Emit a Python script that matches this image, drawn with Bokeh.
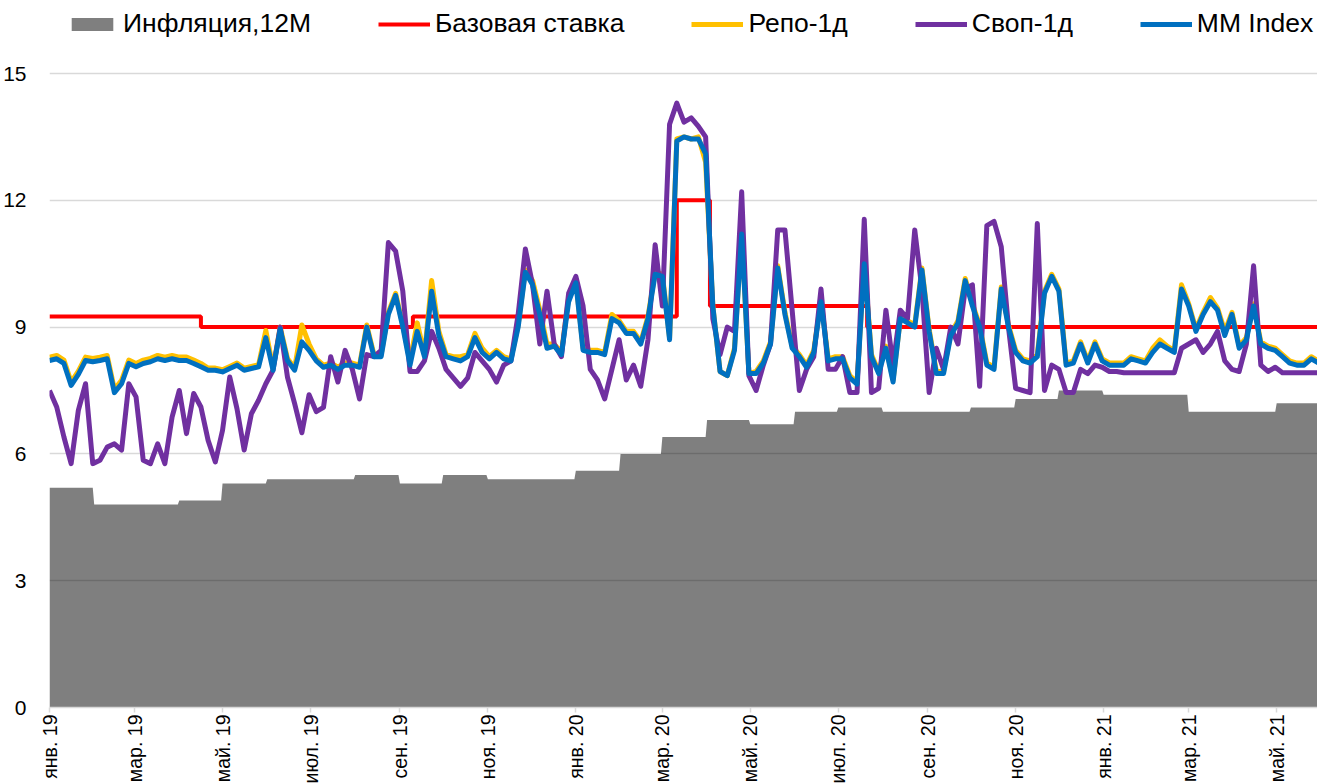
import numpy as np
import pandas as pd
from bokeh.plotting import figure
from bokeh.models import FixedTicker, Legend, LegendItem, Range1d
from bokeh.embed import file_html
from bokeh.resources import INLINE

start = "2019-01-01"
end = "2021-05-30"

# daily-rate series, sampled every 5 days from 2019-01-01
mm_index = [
    8.21, 8.25, 8.14, 7.62, 7.88, 8.21, 8.18, 8.21, 8.25, 7.45,
    7.66, 8.14, 8.06, 8.14, 8.18, 8.25, 8.21, 8.25, 8.21, 8.21,
    8.14, 8.06, 7.98, 7.98, 7.94, 8.02, 8.10, 7.98, 8.02, 8.06,
    8.75, 7.98, 8.95, 8.21, 7.98, 8.65, 8.45, 8.20, 8.05, 8.10,
    8.00, 8.10, 8.10, 8.05, 9.00, 8.30, 8.30, 9.30, 9.75, 9.00,
    8.10, 8.90, 8.30, 9.85, 8.80, 8.30, 8.25, 8.20, 8.30, 8.75,
    8.40, 8.25, 8.40, 8.25, 8.20, 9.00, 10.30, 10.00, 9.30, 8.50,
    8.55, 8.35, 9.60, 10.05, 8.45, 8.40, 8.40, 8.35, 9.20, 9.10,
    8.85, 8.85, 8.60, 9.20, 10.25, 10.20, 8.70, 13.40, 13.50, 13.45,
    13.45, 13.10, 9.50, 7.95, 7.85, 8.45, 11.20, 7.90, 7.90, 8.15,
    8.60, 10.40, 9.30, 8.50, 8.30, 8.05, 8.40, 9.60, 8.20, 8.25,
    8.25, 7.80, 7.65, 10.50, 8.30, 7.90, 8.50, 7.70, 9.20, 9.10,
    9.00, 10.35, 8.90, 7.90, 7.90, 8.80, 9.10, 10.10, 9.50, 9.00,
    8.10, 8.00, 9.90, 9.00, 8.40, 8.20, 8.15, 8.30, 9.80, 10.20,
    9.85, 8.10, 8.15, 8.60, 8.15, 8.60, 8.20, 8.10, 8.10, 8.10,
    8.25, 8.20, 8.15, 8.40, 8.60, 8.50, 8.40, 9.90, 9.50, 8.90,
    9.30, 9.60, 9.40, 8.80, 9.30, 8.50, 8.70, 9.50, 8.60, 8.50,
    8.45, 8.30, 8.15, 8.10, 8.10, 8.25, 8.15,
]

repo_1d = [
    8.29, 8.33, 8.22, 7.70, 7.96, 8.29, 8.26, 8.29, 8.33, 7.53,
    7.74, 8.22, 8.14, 8.22, 8.26, 8.33, 8.29, 8.33, 8.29, 8.29,
    8.22, 8.14, 8.03, 8.03, 7.99, 8.07, 8.15, 8.03, 8.07, 8.11,
    8.92, 8.03, 9.00, 8.26, 8.03, 9.05, 8.60, 8.25, 8.10, 8.15,
    8.05, 8.15, 8.15, 8.10, 9.05, 8.35, 8.35, 9.35, 9.80, 9.05,
    8.20, 9.10, 8.35, 10.10, 8.90, 8.35, 8.30, 8.30, 8.35, 8.85,
    8.50, 8.30, 8.45, 8.30, 8.25, 9.05, 10.35, 10.10, 9.40, 8.60,
    8.60, 8.40, 9.70, 10.10, 8.50, 8.45, 8.45, 8.40, 9.30, 9.15,
    8.90, 8.90, 8.65, 9.25, 10.30, 10.25, 8.75, 13.45, 13.50, 13.45,
    13.50, 12.90, 9.50, 7.95, 7.85, 8.50, 11.25, 7.90, 7.95, 8.20,
    8.65, 10.45, 9.35, 8.55, 8.35, 8.10, 8.45, 9.65, 8.25, 8.30,
    8.30, 7.85, 7.70, 10.55, 8.35, 7.95, 8.55, 7.75, 9.20, 9.15,
    9.05, 10.40, 8.95, 7.95, 7.95, 8.85, 9.15, 10.15, 9.55, 9.05,
    8.15, 8.05, 9.95, 9.05, 8.45, 8.25, 8.20, 8.35, 9.85, 10.25,
    9.90, 8.15, 8.20, 8.65, 8.20, 8.65, 8.25, 8.15, 8.15, 8.15,
    8.30, 8.25, 8.20, 8.50, 8.70, 8.55, 8.45, 10.00, 9.55, 8.95,
    9.35, 9.70, 9.45, 8.90, 9.35, 8.55, 8.75, 9.55, 8.65, 8.55,
    8.50, 8.35, 8.20, 8.15, 8.15, 8.30, 8.20,
]

swap_1d = [
    7.50, 7.11, 6.40, 5.77, 7.03, 7.66, 5.77, 5.85, 6.16, 6.24,
    6.09, 7.66, 7.35, 5.85, 5.77, 6.24, 5.77, 6.87, 7.50, 6.48,
    7.43, 7.11, 6.32, 5.81, 6.56, 7.82, 7.07, 6.09, 6.95, 7.27,
    7.66, 7.98, 9.00, 7.82, 7.19, 6.50, 7.40, 7.00, 7.10, 8.30,
    7.70, 8.45, 8.00, 7.30, 8.35, 8.30, 8.45, 11.00, 10.80, 9.85,
    7.95, 7.95, 8.20, 8.90, 8.50, 8.00, 7.80, 7.60, 7.80, 8.40,
    8.20, 8.00, 7.70, 8.10, 8.20, 9.30, 10.85, 10.00, 8.60, 9.85,
    8.60, 8.30, 9.80, 10.20, 9.50, 8.00, 7.75, 7.30, 8.00, 8.70,
    7.75, 8.10, 7.60, 8.70, 10.95, 9.50, 13.80, 14.30, 13.85, 13.95,
    13.75, 13.50, 9.20, 8.35, 9.00, 8.90, 12.20, 7.85, 7.50, 8.10,
    8.60, 11.30, 11.30, 9.40, 7.50, 8.00, 8.30, 9.90, 8.00, 8.00,
    8.30, 7.45, 7.45, 11.55, 7.45, 7.55, 9.40, 8.10, 9.40, 9.20,
    11.30, 9.90, 7.45, 8.50, 8.00, 9.00, 8.60, 9.90, 10.00, 7.60,
    11.40, 11.50, 10.90, 9.00, 7.55, 7.50, 7.45, 11.45, 7.50, 8.10,
    8.00, 7.45, 7.45, 8.00, 7.90, 8.10, 8.05, 7.95, 7.95, 7.92,
    7.92, 7.92, 7.92, 7.92, 7.92, 7.92, 7.92, 8.50, 8.60, 8.70,
    8.40, 8.60, 8.90, 8.20, 8.00, 7.95, 8.60, 10.45, 8.10, 7.95,
    8.05, 7.92, 7.92, 7.92, 7.92, 7.92, 7.92,
]

# 12-month inflation, monthly from Jan 2019
infl_vals = [5.2, 4.8, 4.8, 4.9, 5.3, 5.4, 5.4, 5.5, 5.3, 5.5, 5.4, 5.4,
             5.6, 6.0, 6.4, 6.8, 6.7, 7.0, 7.1, 7.0, 7.0, 7.1, 7.3, 7.5,
             7.4, 7.4, 7.0, 7.0, 7.2]

# base rate change dates
rate_dates = ["2019-01-01", "2019-04-16", "2019-09-10", "2020-03-11",
              "2020-04-03", "2020-07-21", "2021-05-30"]
rate_vals = [9.25, 9.0, 9.25, 12.0, 9.5, 9.0, 9.0]

tick_labels = ["янв. 19", "мар. 19", "май. 19", "июл. 19", "сен. 19", "ноя. 19",
               "янв. 20", "мар. 20", "май. 20", "июл. 20", "сен. 20", "ноя. 20",
               "янв. 21", "мар. 21", "май. 21"]

FONT = "Liberation Sans"

t0 = pd.Timestamp(start)
t_end = pd.Timestamp(end)

def series_dates(vals):
    return pd.date_range(start, periods=len(vals), freq="5D")

# inflation step area
infl_months = pd.date_range(start, periods=len(infl_vals), freq="MS")
ix, iy = [], []
for k, v in enumerate(infl_vals):
    s = infl_months[k]
    e = infl_months[k + 1] - pd.Timedelta(days=1) if k + 1 < len(infl_vals) else t_end
    ix += [s, e]
    iy += [v, v]

FRAME_W = 1269
FRAME_H = 707
TOP_PAD = 73          # pixels between frame top and the 15 gridline
y_top = 15.0 / ((FRAME_H - TOP_PAD) / FRAME_H)

p = figure(frame_width=FRAME_W, frame_height=FRAME_H, x_axis_type="datetime",
           x_range=Range1d(t0.to_pydatetime(), t_end.to_pydatetime()),
           y_range=Range1d(0, y_top),
           output_backend="svg", toolbar_location=None,
           min_border_left=48, min_border_right=0, min_border_top=0,
           min_border_bottom=0)
p.outline_line_color = None
p.background_fill_color = "white"
p.xgrid.visible = False
p.ygrid.grid_line_color = "#D9D9D9"
p.ygrid.grid_line_width = 1.5

p.yaxis.ticker = FixedTicker(ticks=[0, 3, 6, 9, 12, 15])
p.yaxis.axis_line_color = None
p.yaxis.major_tick_line_color = None
p.yaxis.minor_tick_line_color = None
p.yaxis.major_label_text_font = FONT
p.yaxis.major_label_text_font_size = "21px"
p.yaxis.major_label_text_color = "#000000"
p.yaxis.major_label_standoff = 17

tick_dates = pd.date_range(start, periods=len(tick_labels), freq="2MS")
tick_ms = [int(t.value // 10**6) for t in tick_dates]
p.xaxis.ticker = FixedTicker(ticks=tick_ms)
p.xaxis.major_label_overrides = {ms: lab for ms, lab in zip(tick_ms, tick_labels)}
p.xaxis.major_label_orientation = np.pi / 2
p.xaxis.axis_line_color = "#D9D9D9"
p.xaxis.axis_line_width = 1.5
p.xaxis.major_tick_line_color = "#D9D9D9"
p.xaxis.major_tick_line_width = 1.5
p.xaxis.major_tick_out = 5
p.xaxis.major_tick_in = 0
p.xaxis.minor_tick_line_color = None
p.xaxis.major_label_text_font = FONT
p.xaxis.major_label_text_font_size = "19.5px"
p.xaxis.major_label_text_color = "#000000"
p.xaxis.major_label_standoff = 2

r_area = p.varea(x=ix, y1=0, y2=iy, fill_color="black", fill_alpha=0.5)
r_rate = p.step(x=pd.to_datetime(rate_dates), y=rate_vals, mode="after",
                line_color="#FF0000", line_width=4)
r_repo = p.line(x=series_dates(repo_1d), y=repo_1d, line_color="#FFC000",
                line_width=5, line_join="round")
r_swap = p.line(x=series_dates(swap_1d), y=swap_1d, line_color="#7030A0",
                line_width=5, line_join="round")
r_mm = p.line(x=series_dates(mm_index), y=mm_index, line_color="#0070C0",
              line_width=5, line_join="round")

legend = Legend(items=[
    LegendItem(label="Инфляция,12M", renderers=[r_area]),
    LegendItem(label="Базовая ставка", renderers=[r_rate]),
    LegendItem(label="Репо-1д", renderers=[r_repo]),
    LegendItem(label="Своп-1д", renderers=[r_swap]),
    LegendItem(label="MM Index", renderers=[r_mm]),
], orientation="horizontal", location=(17, FRAME_H - 39), spacing=67,
    glyph_width=52, glyph_height=16, label_standoff=5,
    label_text_font=FONT, label_text_font_size="26.5px",
    label_text_color="#000000",
    padding=0, margin=0, border_line_color=None, background_fill_alpha=0)
p.add_layout(legend, "center")

open("out.html", "w").write(file_html(p, INLINE))
